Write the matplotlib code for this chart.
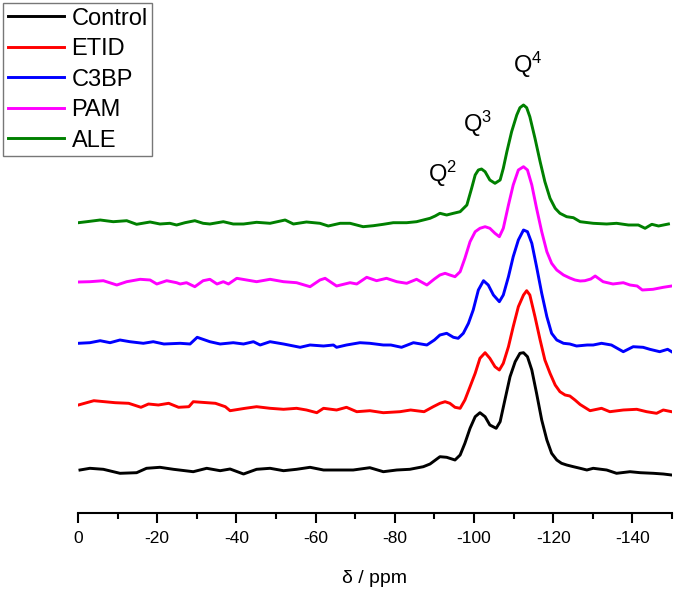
import matplotlib
matplotlib.use("Agg")
import matplotlib.pyplot as plt
import numpy as np

plt.rcParams['font.family'] = ['Liberation Sans', 'DejaVu Sans']
plt.rcParams['mathtext.fontset'] = 'custom'
plt.rcParams['mathtext.rm'] = 'Liberation Sans'
plt.rcParams['mathtext.it'] = 'Liberation Sans'
plt.rcParams['axes.unicode_minus'] = False

# ---- data (chemical shift in ppm, intensity relative to each trace's baseline) ----
series_names = ["Control", "ETID", "C3BP", "PAM", "ALE"]
series_colors = ["#000000", "#FF0000", "#0000FF", "#FF00FF", "#008000"]
stack_offsets = [43, 110, 170, 230, 291]

control_shift = [0.5, 3.0, 6.4, 10.6, 14.8, 17.3, 20.7, 24.1, 29.1, 32.5, 35.9, 38.4, 41.8, 45.1, 48.5, 51.9,
                 55.2, 58.6, 62.0, 65.3, 69.5, 73.7, 77.1, 80.5, 83.8, 87.2, 88.9,
                 91.4, 93.1, 95.2, 96.5, 97.7, 99.0, 100.3, 101.5, 102.8, 104.0, 105.6, 106.6, 107.8, 109.1,
                 110.4, 111.6, 112.5, 113.5, 114.6, 115.8, 117.1, 118.4, 119.6, 120.9, 122.1, 123.4, 125.1,
                 126.8, 128.5, 130.1, 133.5, 136.0, 139.4, 142.0, 145.3, 147.8, 149.9]
control_int = [0, 1.7, 0.7, -3.3, -2.7, 1.7, 2.7, 0.7, -1.7, 1.7, -0.7, 1.0, -4.0, 0.7, 1.7, -0.7,
               0.7, 2.7, 0, 0, 0, 2.3, -1.7, 0, 0.7, 3.3, 6.0,
               13.3, 12.7, 10.0, 15.0, 26.7, 41.7, 53.3, 57.3, 53.3, 45.0, 41.7, 48.3, 70.0, 93.3,
               108.3, 116.7, 117.3, 113.3, 100.0, 76.7, 50.0, 30.0, 16.7, 10.0, 6.7, 5.0, 3.3,
               1.7, 0, 1.7, 0, -3.3, -1.7, -2.7, -3.3, -4.0, -5.0]

etid_shift = [0.1, 4.0, 9.4, 12.8, 15.9, 17.8, 20.3, 22.9, 25.4, 28.0, 29.1, 34.7, 37.2, 38.4, 42.2, 45.1,
              48.5, 51.9, 55.2, 57.7, 60.3, 62.0, 65.3, 67.8, 70.4, 73.7, 77.1, 81.3, 84.0, 87.4, 89.7,
              91.4, 92.7, 93.9, 95.2, 96.5, 97.7, 99.0, 100.3, 101.5, 102.8, 104.0, 105.3, 106.4, 107.4,
              108.7, 109.9, 111.2, 112.5, 113.3, 114.1, 115.4, 116.7, 117.9, 119.2, 120.5, 121.7, 123.0,
              124.2, 125.5, 126.8, 129.3, 132.2, 134.3, 137.7, 141.1, 143.6, 146.1, 147.8, 149.9]
etid_int = [-2.0, 2.3, 0.3, -0.3, -4.3, -1.0, -2.0, -0.3, -4.3, -3.7, 1.3, -0.3, -3.7, -7.7, -5.3, -3.7,
            -5.3, -6.3, -5.3, -7.0, -9.7, -5.3, -7.0, -4.3, -8.7, -7.7, -9.7, -8.7, -7.0, -8.7, -3.7,
            -0.3, 1.3, -0.3, -4.3, -5.3, 3.0, 16.3, 29.7, 44.7, 50.3, 44.7, 36.3, 33.0, 39.7,
            56.3, 76.3, 96.3, 108.0, 112.3, 108.0, 86.3, 63.0, 43.0, 29.7, 18.0, 11.3, 8.0,
            7.0, 3.0, -1.5, -7.7, -5.3, -8.7, -7.0, -6.3, -8.7, -10.3, -7.0, -8.7]

c3bp_shift = [0.1, 3.0, 5.6, 8.1, 10.6, 13.1, 16.5, 19.0, 21.7, 25.8, 28.3, 30.1, 33.3, 35.9, 39.2, 41.8,
              44.3, 46.0, 48.5, 51.9, 56.1, 58.6, 62.0, 64.5, 65.3, 67.8, 71.2, 73.7, 77.1, 79.0, 81.7, 84.7,
              88.1, 90.0, 91.4, 93.1, 94.8, 96.0, 97.3, 98.6, 99.8, 101.1, 102.4, 103.6, 104.9, 106.4,
              107.4, 108.7, 109.9, 111.2, 112.5, 113.5, 114.6, 115.8, 117.1, 118.4, 119.6, 120.9, 122.6,
              124.2, 125.9, 128.6, 130.1, 132.2, 134.7, 137.7, 140.2, 142.7, 144.4, 146.9, 148.9, 149.9]
c3bp_int = [-0.3, 0.3, 2.3, 0.3, 3.0, 1.3, -0.3, 1.3, -1.0, -0.3, -1.0, 5.7, 1.3, -1.0, 0.3, -1.0,
            1.3, -2.0, 1.3, -1.0, -4.3, -2.0, -3.0, -2.0, -4.3, -2.0, 0.3, -0.3, -2.0, -2.0, -4.3, 0.3,
            -2.0, 3.0, 8.0, 9.7, 5.7, 4.7, 9.7, 19.7, 33.0, 53.0, 62.3, 58.0, 48.0, 41.3,
            48.0, 66.3, 86.3, 103.0, 113.0, 111.3, 99.7, 76.3, 49.7, 26.3, 9.7, 3.0, -0.3,
            -1.0, -3.0, -2.0, -2.0, -0.3, -2.0, -8.7, -3.7, -4.3, -6.3, -8.7, -6.3, -8.7]

pam_shift = [0.1, 3.0, 6.4, 9.8, 12.3, 15.7, 18.2, 19.9, 22.4, 24.9, 25.8, 27.4, 29.5, 31.6, 33.3, 35.1,
             36.7, 38.0, 40.1, 42.6, 45.1, 48.5, 51.9, 55.2, 58.6, 61.1, 62.4, 65.3, 68.7, 70.4, 72.9, 75.4,
             77.9, 80.5, 83.0, 85.5, 88.1, 90.0, 91.4, 92.7, 93.9, 95.2, 96.5, 97.7, 99.0, 100.3, 101.5,
             102.8, 104.0, 105.3, 106.4, 107.4, 108.7, 109.9, 111.2, 112.5, 113.5, 114.6, 115.8, 117.1,
             118.4, 119.6, 120.9, 122.6, 124.2, 125.5, 126.8, 128.0, 129.5, 130.6, 132.6, 135.1, 137.7,
             139.4, 141.2, 142.5, 145.2, 147.8, 149.9]
pam_int = [1.0, 1.3, 2.3, -2.0, 1.3, 3.7, 3.0, -1.0, 2.3, 0.3, -1.0, 0.3, -3.7, 2.3, 3.7, -1.0,
           1.3, -1.0, 4.7, 3.0, 1.3, 3.7, 1.3, 0.3, -3.7, 3.0, 4.7, -3.0, 0.3, -1.0, 5.7, 2.3,
           4.7, 1.3, -0.3, 3.7, -2.0, 4.0, 8.0, 9.7, 8.0, 6.3, 11.3, 24.7, 41.3, 51.3, 54.7,
           56.3, 54.7, 49.7, 46.3, 54.7, 78.0, 98.0, 113.0, 116.3, 113.0, 98.0, 74.7, 51.3,
           31.3, 19.7, 13.0, 8.0, 5.0, 3.0, 2.0, 2.3, 4.0, 7.0, 1.3, -1.0, 0.3,
           -2.0, -3.0, -7.0, -6.3, -4.3, -3.0]

ale_shift = [0.1, 2.2, 5.6, 8.9, 12.3, 14.8, 18.2, 20.7, 23.2, 24.9, 27.0, 29.5, 31.6, 33.3, 36.7, 39.2,
             41.8, 45.1, 48.5, 52.3, 54.4, 57.7, 61.1, 63.2, 66.2, 68.7, 72.0, 74.6, 77.1, 79.6, 83.0, 85.5,
             88.9, 90.2, 91.4, 93.1, 94.8, 96.5, 98.2, 99.4, 100.3, 101.1, 101.9, 102.8, 104.0, 105.3,
             106.6, 107.4, 108.3, 109.5, 110.8, 111.6, 112.5, 113.3, 114.1, 115.4, 116.7, 117.9, 119.2,
             120.5, 121.7, 123.4, 125.1, 126.8, 130.1, 133.5, 136.0, 139.0, 141.5, 143.2, 144.9, 146.6,
             149.1]
ale_int = [-0.7, 0.3, 2.0, 0.3, 1.3, -2.3, 0, -2.0, -1.3, -3.0, -0.7, 1.3, -1.3, -2.0, 0.3, -2.0,
           -2.0, -0.3, -1.3, 2.0, -2.0, 0, -1.3, -4.0, -1.3, -1.3, -4.7, -3.7, -2.3, -0.7, -0.7, 0.3,
           3.7, 6.0, 8.7, 7.0, 8.7, 10.3, 17.0, 33.7, 47.0, 52.0, 53.0, 50.3, 42.0, 38.7,
           42.0, 53.7, 70.3, 90.3, 107.0, 114.3, 117.0, 114.3, 105.3, 83.7, 60.3, 40.3, 23.7,
           13.7, 8.7, 5.3, 4.3, 0.3, -1.3, -2.0, -1.3, -3.0, -3.0, -6.3, -2.3, -4.0,
           -2.0]

all_shifts = [control_shift, etid_shift, c3bp_shift, pam_shift, ale_shift]
all_ints = [control_int, etid_int, c3bp_int, pam_int, ale_int]

x_ticks = [0, -20, -40, -60, -80, -100, -120, -140]
peak_labels = [("Q$^2$", -88.4, 331), ("Q$^3$", -97.2, 381), ("Q$^4$", -109.8, 440)]

# ---- figure ----
fig = plt.figure(figsize=(6.75, 5.92), dpi=100)
ax = fig.add_axes([78 / 675, 79 / 592, 594 / 675, 513 / 592])

handles = []
for name, col, off, sh, it in zip(series_names, series_colors, stack_offsets, all_shifts, all_ints):
    x = -np.array(sh)
    y = np.array(it) + off
    h, = ax.plot(x, y, color=col, lw=2.1, label=name, solid_joinstyle='round')
    handles.append(h)

ax.set_xlim(0, -150)
ax.set_ylim(0, 513)

for s in ['left', 'right', 'top']:
    ax.spines[s].set_visible(False)
ax.spines['bottom'].set_linewidth(1.5)
ax.set_yticks([])
ax.set_xticks(x_ticks)
ax.set_xticklabels([str(t) for t in x_ticks])
ax.set_xticks(np.arange(-10, -151, -20), minor=True)
ax.tick_params(axis='x', which='major', direction='out', length=7, width=1.5, pad=6, labelsize=12.5)
ax.tick_params(axis='x', which='minor', direction='out', length=4, width=1.5)
ax.set_xlabel("δ / ppm", fontsize=14, labelpad=17)

for txt, xx, yy in peak_labels:
    ax.text(xx, yy, txt, fontsize=17, ha='left', va='baseline')

leg = fig.legend(handles=handles, loc='upper left', bbox_to_anchor=(3 / 675, 1 - 3 / 592),
                 fontsize=17, frameon=True, fancybox=False, handlelength=2.4, handletextpad=0.3,
                 labelspacing=0.36, borderpad=0.2, borderaxespad=0)
leg.get_frame().set_edgecolor('#555555')
leg.get_frame().set_linewidth(1.0)

fig.savefig("out.png", dpi=100)
